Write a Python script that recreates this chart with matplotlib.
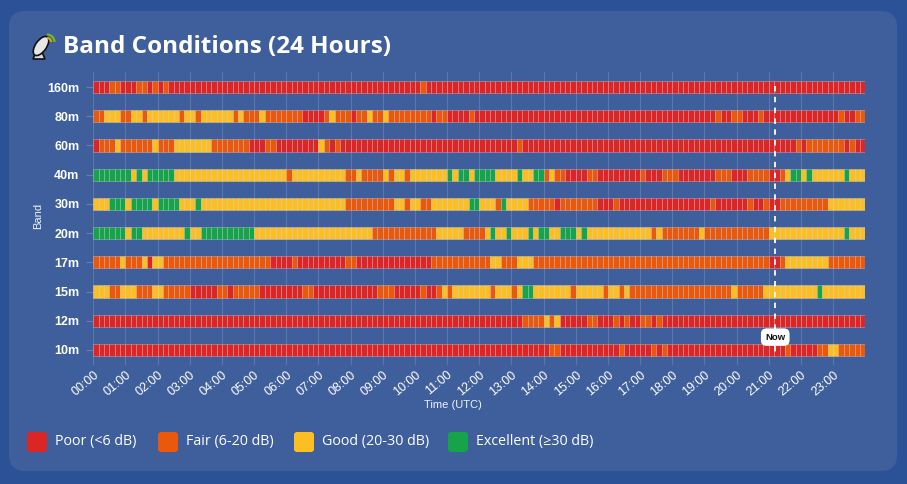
import matplotlib
matplotlib.use("Agg")
import matplotlib.pyplot as plt
from matplotlib.patches import FancyBboxPatch, Ellipse, Polygon, Arc
import numpy as np

# bands, top to bottom
BANDS = ["160m", "80m", "60m", "40m", "30m", "20m", "17m", "15m", "12m", "10m"]

# run-length readings of each row, 10-minute cells (144 per day)
# P = poor, F = fair, G = good, E = excellent
RUNS_160 = "3P 2F 3P 2F 1P 1F 1P 1F 47P 1F 82P"
RUNS_80 = ("2F 3G 2F 2G 1F 6G 1F 2G 1F 6G 1F 1G 3F 1G 7F 4P 1F 1G 3F 1P 2F 1G 2F 1G "
           "8F 1P 2F 4P 1F 45P 1F 2P 2F 3P 1F 14P 1F 2P 2F")
RUNS_60 = ("1P 3F 1G 6F 1G 3F 7G 7F 3P 2F 8P 1G 1F 1P 1F 33P 1F 51P 1F 1P 7F 1P 1F 2P")
RUNS_40 = ("7E 1G 1E 1G 5E 21G 1F 10G 2F 1G 4F 1G 1F 2G 1F 7G 1E 1G 2E 1G 4E 4G 1E 2G "
           "2E 1F 1G 2F 4P 2F 8P 1F 3P 3F 7P 3F 3P 4F 2P 1F 1G 2E 1G 1E 6G 1E 3G")
RUNS_30 = ("3G 3E 1G 4E 1G 4E 3G 1E 27G 9F 2G 1F 2G 2F 7G 2E 3G 1F 1E 4G 5F 1P 7F 3P "
           "1F 17P 1F 6P 1F 2P 1F 2P 9F 7G")
RUNS_20 = ("6E 1G 2E 8G 1E 2G 10E 22G 12F 5G 4F 1G 1E 2G 1E 3G 1E 1G 2E 2G 3E 1G 1E "
           "12G 1F 1G 7F 1G 12F 14G 1E 3G")
RUNS_17 = "5F 1G 3F 1G 1P 2G 20F 4P 1F 9P 2F 14P 11F 2G 3F 3G 44F 2P 1F 8G 7F"
RUNS_15 = ("3G 2F 3G 3F 2G 5F 5P 2F 1P 5F 8P 2F 12P 3F 5P 1F 2P 1F 1G 1F 7G 1F 3G 1F "
           "1G 2E 7G 1F 5G 1F 2G 1F 1G 19F 1G 5F 10G 1E 8G")
RUNS_12 = "80P 4F 1G 1F 1G 5P 2F 3P 1F 1P 1F 2P 2F 1P 1F 38P"
RUNS_10 = "85P 2F 11P 1F 5P 1F 1P 1F 22P 1F 5P 2F 2G 5F"
BAND_RUNS = [RUNS_160, RUNS_80, RUNS_60, RUNS_40, RUNS_30,
             RUNS_20, RUNS_17, RUNS_15, RUNS_12, RUNS_10]

HOUR_LABELS = [f"{h:02d}:00" for h in range(24)]
NOW_HOUR = 21.2
CELL = 1 / 6  # hours per cell

COLORS = {"P": "#dc2626", "F": "#ea580c", "G": "#fbbf24", "E": "#16a34a"}
LEGEND = [("P", "Poor (<6 dB)"), ("F", "Fair (6-20 dB)"),
          ("G", "Good (20-30 dB)"), ("E", "Excellent (\u226530 dB)")]
TXT = "#eef3fb"
ARIAL = "Liberation Sans"


def expand(runs):
    out = []
    for tok in runs.split():
        out += [tok[-1]] * int(tok[:-1])
    return out


fig = plt.figure(figsize=(9.07, 4.84), dpi=100, facecolor="#2b5296")

# background card, pixel coordinates
bg = fig.add_axes([0, 0, 1, 1])
bg.set_xlim(0, 907); bg.set_ylim(484, 0); bg.axis("off")
bg.add_patch(FancyBboxPatch((9, 11), 888, 460, boxstyle="round,pad=0,rounding_size=16",
                            fc="#3e5f9c", ec="none"))

# little satellite dish in front of the title
bg.add_patch(Polygon([[33, 59], [45, 59], [42, 52], [36, 52]], closed=True,
                     fc="#d9d9d9", ec="#111111", lw=1.2))
bg.add_patch(Ellipse((41, 46), 22, 11, angle=-55, fc="#e6e6e6", ec="#111111", lw=1.2))
bg.add_patch(Arc((47, 42), 8, 8, theta1=270, theta2=360, ec="#d4b000", lw=1.6))
bg.add_patch(Arc((47, 42), 15, 15, theta1=270, theta2=360, ec="#7cb518", lw=1.6))

bg.text(63, 47, "Band Conditions (24 Hours)", color="white", fontsize=17.5,
        fontweight="bold", family="Open Sans", va="center", ha="left")
bg.text(38, 216, "Band", color=TXT, fontsize=8, family=ARIAL, rotation=90,
        ha="center", va="center")
bg.text(453, 405, "Time (UTC)", color=TXT, fontsize=8, family=ARIAL,
        ha="center", va="center")

# legend
lx = [27, 158, 294, 448]
for x0, (code, lab) in zip(lx, LEGEND):
    bg.add_patch(FancyBboxPatch((x0, 432), 20, 20, boxstyle="round,pad=0,rounding_size=3",
                                fc=COLORS[code], ec="none"))
    bg.text(x0 + 28, 442, lab, color="white", fontsize=10.3, family="Open Sans",
            va="center", ha="left")

ax = fig.add_axes([93.3 / 907, (484 - 364.6) / 484, 772 / 907, 292.2 / 484])
ax.set_facecolor("none")
lefts = np.arange(144) * CELL
for k, runs in enumerate(BAND_RUNS):
    codes = expand(runs)
    ax.barh(k, CELL, left=lefts, height=0.42, color=[COLORS[c] for c in codes],
            edgecolor=(1, 1, 1, 0.3), linewidth=0.6, zorder=2)

ax.set_xlim(0, 24)
ax.set_ylim(len(BANDS) - 0.5, -0.5)
ax.set_yticks(range(len(BANDS)))
ax.set_yticklabels(BANDS, color="white", fontsize=9, fontweight="bold", family=ARIAL)
ax.set_xticks(range(24))
ax.set_xticklabels(HOUR_LABELS, rotation=40, ha="right", rotation_mode="anchor",
                   color="white", fontsize=9, family=ARIAL)
ax.tick_params(axis="x", length=0, pad=3)
ax.tick_params(axis="y", length=5, color=(1, 1, 1, 0.2), pad=5)
ax.grid(axis="x", color="white", alpha=0.15, linewidth=0.8, zorder=0)
ax.set_axisbelow(True)
for sp in ax.spines.values():
    sp.set_visible(False)

ax.vlines(NOW_HOUR, -0.05, 9.25, colors="white", linestyles=(0, (3, 3)), linewidth=1.3, zorder=4)
ax.text(NOW_HOUR, 8.56, "Now", ha="center", va="center", fontsize=6.8, fontweight="bold",
        family=ARIAL, color="#111111", zorder=5,
        bbox=dict(boxstyle="round,pad=0.45,rounding_size=0.6", fc="white", ec="none"))

fig.savefig("out.png", dpi=100, facecolor=fig.get_facecolor())
